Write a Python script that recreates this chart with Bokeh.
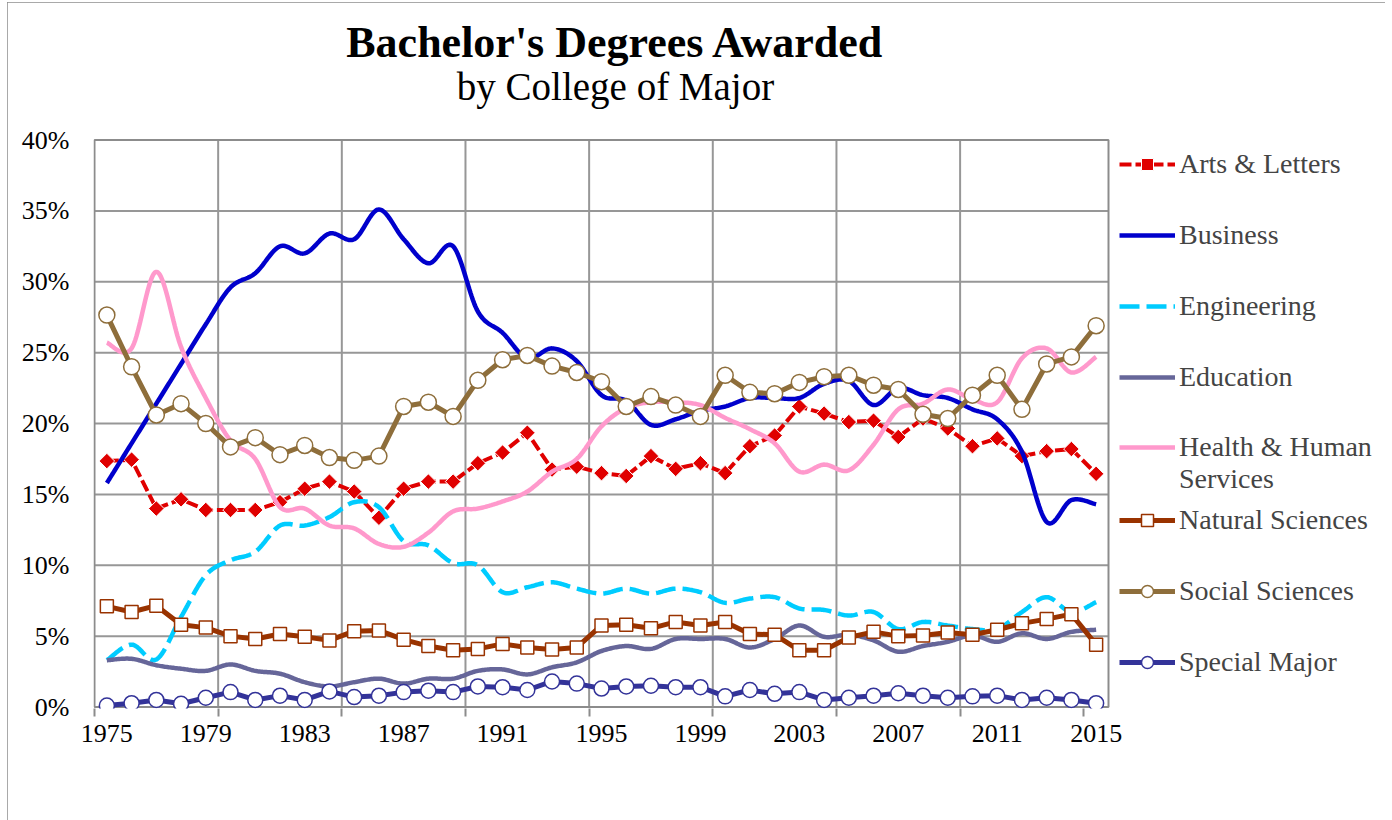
import numpy as np
from bokeh.plotting import figure
from bokeh.models import Legend, LegendItem, FixedTicker, PrintfTickFormatter, Label
from bokeh.embed import file_html
from bokeh.resources import INLINE

years = list(range(1975, 2016))

arts = [17.35, 17.45, 14.0, 14.65, 13.9, 13.9, 13.9, 14.45, 15.4, 15.9,
        15.2, 13.35, 15.4, 15.9, 15.9, 17.2, 17.95, 19.35, 16.75, 16.95,
        16.5, 16.3, 17.7, 16.8, 17.2, 16.5, 18.4, 19.15, 21.2, 20.7,
        20.1, 20.2, 19.05, 20.35, 19.65, 18.4, 18.95, 17.7, 18.05, 18.2, 16.45]
business = [15.8, 18.6, 21.4, 24.2, 27.0, 29.6, 30.6, 32.5, 32.0, 33.4,
            33.0, 35.1, 33.0, 31.3, 32.5, 27.9, 26.4, 24.6, 25.3, 24.4,
            22.0, 21.6, 19.9, 20.3, 20.9, 21.2, 21.8, 21.8, 21.8, 22.8,
            23.0, 21.3, 22.5, 22.0, 21.8, 21.0, 20.3, 18.0, 13.05, 14.6, 14.3]
engineering = [3.3, 4.4, 3.35, 6.35, 9.3, 10.35, 10.95, 12.8, 12.8, 13.4,
               14.45, 14.1, 11.7, 11.4, 10.15, 10.0, 8.1, 8.45, 8.8, 8.35,
               8.0, 8.35, 8.0, 8.35, 8.1, 7.35, 7.65, 7.75, 6.95, 6.85,
               6.45, 6.7, 5.5, 6.0, 5.75, 5.5, 5.5, 6.7, 7.75, 6.7, 7.4]
education = [3.3, 3.4, 2.95, 2.7, 2.55, 3.0, 2.55, 2.35, 1.75, 1.45,
             1.75, 2.0, 1.65, 2.0, 2.0, 2.55, 2.65, 2.3, 2.8, 3.15,
             3.95, 4.3, 4.1, 4.8, 4.8, 4.8, 4.2, 4.8, 5.75, 4.95,
             5.1, 4.7, 3.9, 4.3, 4.6, 5.05, 4.6, 5.2, 4.8, 5.3, 5.45]
health = [25.7, 25.3, 30.7, 25.4, 21.8, 18.8, 17.5, 14.1, 14.0, 12.8,
          12.6, 11.5, 11.3, 12.3, 13.8, 14.0, 14.5, 15.2, 16.6, 17.5,
          19.8, 21.1, 21.5, 21.5, 21.3, 20.4, 19.6, 18.6, 16.6, 17.1,
          16.7, 18.5, 21.0, 21.4, 22.4, 21.7, 21.5, 24.6, 25.3, 23.6, 24.7]
natural = [7.1, 6.7, 7.15, 5.8, 5.6, 5.0, 4.8, 5.15, 4.95, 4.7,
           5.35, 5.4, 4.75, 4.3, 4.0, 4.1, 4.45, 4.2, 4.05, 4.2,
           5.75, 5.8, 5.55, 6.0, 5.75, 6.0, 5.15, 5.1, 4.0, 4.0,
           4.9, 5.3, 5.0, 5.05, 5.25, 5.1, 5.45, 5.9, 6.2, 6.55, 4.4]
social = [27.65, 24.0, 20.6, 21.4, 20.0, 18.35, 19.0, 17.8, 18.45, 17.6,
          17.4, 17.7, 21.2, 21.5, 20.5, 23.05, 24.5, 24.8, 24.05, 23.6,
          22.95, 21.2, 21.9, 21.3, 20.5, 23.4, 22.2, 22.1, 22.9, 23.3,
          23.4, 22.7, 22.4, 20.65, 20.35, 22.0, 23.4, 21.0, 24.2, 24.7, 26.9]
special = [0.1, 0.27, 0.5, 0.23, 0.65, 1.05, 0.5, 0.8, 0.5, 1.1,
           0.7, 0.8, 1.05, 1.15, 1.05, 1.45, 1.4, 1.2, 1.8, 1.65,
           1.3, 1.45, 1.5, 1.4, 1.4, 0.75, 1.2, 0.93, 1.05, 0.5,
           0.65, 0.8, 0.97, 0.8, 0.65, 0.75, 0.8, 0.5, 0.65, 0.5, 0.27]

x_labels = list(range(1975, 2016, 4))
y_ticks = list(range(0, 41, 5))
title_text = "Bachelor's Degrees Awarded"
subtitle_text = "by College of Major"

FONT = "Liberation Serif"
GRID = "#979797"


def smooth(xs, ys, n=20):
    """Catmull-Rom curve through the data points (like Excel's smoothed line)."""
    xs = np.asarray(xs, float)
    ys = np.asarray(ys, float)
    m = len(xs)
    ox, oy = [], []
    for i in range(m - 1):
        i0 = max(i - 1, 0)
        i3 = min(i + 2, m - 1)
        p0 = np.array([xs[i0], ys[i0]])
        p1 = np.array([xs[i], ys[i]])
        p2 = np.array([xs[i + 1], ys[i + 1]])
        p3 = np.array([xs[i3], ys[i3]])
        for t in np.linspace(0, 1, n, endpoint=False):
            t2, t3 = t * t, t * t * t
            pt = 0.5 * ((2 * p1) + (-p0 + p2) * t + (2 * p0 - 5 * p1 + 4 * p2 - p3) * t2
                        + (-p0 + 3 * p1 - 3 * p2 + p3) * t3)
            ox.append(pt[0])
            oy.append(pt[1])
    ox.append(xs[-1])
    oy.append(ys[-1])
    return ox, oy


# ---- layout geometry (page pixels; canvas starts at page (7, 2)) ----
OX, OY = 7, 2
W, H = 1378, 818
PX_YEAR = 1014 / len(years)          # width of one category
PX_PCT = 567 / 40                     # height of 1 %
AREA_LEFT, AREA_ZERO = 94, 706.5      # page x of left plot-area edge, page y of 0 %
FRAME_LEFT, FRAME_TOP, FRAME_BOTTOM, FRAME_RIGHT = 93, 6, 708, 1381

BL = FRAME_LEFT - OX
BT = FRAME_TOP - OY
BR = OX + W - FRAME_RIGHT
BB = OY + H - FRAME_BOTTOM

x_lo = years[0] - 0.5                  # plot-area edges (category boundaries)
x_hi = years[-1] + 0.5


def px_to_x(px):
    return x_lo + (px - AREA_LEFT) / PX_YEAR


def py_to_y(py):
    return (AREA_ZERO - py) / PX_PCT


p = figure(width=W, height=H,
           x_range=(px_to_x(FRAME_LEFT), px_to_x(FRAME_RIGHT)),
           y_range=(py_to_y(FRAME_BOTTOM), py_to_y(FRAME_TOP)),
           output_backend="svg", toolbar_location=None, title=None,
           min_border_left=BL, min_border_right=BR, min_border_top=BT,
           min_border_bottom=BB)
p.styles = {"outline": "2px solid #8C8C8C", "outline-offset": "-2px",
            "margin-left": f"{OX}px", "margin-top": f"{OY}px"}
p.outline_line_color = None
p.xgrid.visible = False
p.ygrid.visible = False

# axes
bounds = [x_lo + 5 * k for k in range(9)]
p.xaxis.ticker = FixedTicker(ticks=x_labels, minor_ticks=bounds)
p.xaxis.major_tick_line_color = None
p.xaxis.minor_tick_line_color = "#8C8C8C"
p.xaxis.minor_tick_line_width = 2
p.xaxis.minor_tick_out = 8
p.xaxis.minor_tick_in = 0
p.xaxis.axis_line_color = None
p.xaxis.major_label_text_font = FONT
p.xaxis.major_label_text_font_size = "26px"
p.xaxis.major_label_text_color = "black"
p.xaxis.major_label_standoff = 8

p.yaxis.ticker = FixedTicker(ticks=y_ticks)
p.yaxis.formatter = PrintfTickFormatter(format="%d%%")
p.yaxis.major_tick_line_color = None
p.yaxis.minor_tick_line_color = None
p.yaxis.axis_line_color = None
p.yaxis.major_label_text_font = FONT
p.yaxis.major_label_text_font_size = "26px"
p.yaxis.major_label_text_color = "black"
p.yaxis.major_label_standoff = 18

# plot-area grid and border
vg = bounds[1:-1]
p.segment(x0=vg, x1=vg, y0=[y_ticks[0]] * len(vg), y1=[y_ticks[-1]] * len(vg),
          line_color=GRID, line_width=2)
hg = y_ticks[1:-1]
p.segment(x0=[x_lo] * len(hg), x1=[x_hi] * len(hg), y0=hg, y1=hg,
          line_color=GRID, line_width=2)
p.quad(left=[x_lo], right=[x_hi], bottom=[y_ticks[0]], top=[y_ticks[-1]], fill_alpha=0,
       line_color="#8C8C8C", line_width=2)

# titles
p.add_layout(Label(x=px_to_x(615), y=py_to_y(42), text=title_text, text_font=FONT,
                   text_font_size="44px", text_font_style="bold", text_color="black",
                   text_align="center", text_baseline="alphabetic"))
p.add_layout(Label(x=px_to_x(615), y=py_to_y(86), text=subtitle_text, text_font=FONT,
                   text_font_size="39px", text_font_style="normal", text_color="black",
                   text_align="center", text_baseline="alphabetic"))

# series
c_arts, c_bus, c_eng, c_edu = "#E00000", "#0000CC", "#00CCFF", "#666699"
c_hea, c_nat, c_soc, c_spe = "#FF99CC", "#993300", "#8E6E3B", "#333399"

r_arts_l = p.line(years, arts, line_color=c_arts, line_width=4, line_dash="12 4")
r_arts_m = p.scatter(years, arts, marker="square", angle=np.pi / 4, size=11,
                     fill_color=c_arts, line_color="white", line_width=1)

bx, by = smooth(years, business)
r_bus = p.line(bx, by, line_color=c_bus, line_width=4.5)

ex, ey = smooth(years, engineering)
r_eng = p.line(ex, ey, line_color=c_eng, line_width=4.5, line_dash="20 7")

dx, dy = smooth(years, education)
r_edu = p.line(dx, dy, line_color=c_edu, line_width=4.5)

hx, hy = smooth(years, health)
r_hea = p.line(hx, hy, line_color=c_hea, line_width=4.5)
# second legend line of the Health label has no swatch of its own
r_hea_blank = p.line(hx, hy, line_alpha=0)

r_nat_l = p.line(years, natural, line_color=c_nat, line_width=5)
r_nat_m = p.scatter(years, natural, marker="square", size=13, fill_color="white",
                    line_color=c_nat, line_width=1.5)

r_soc_l = p.line(years, social, line_color=c_soc, line_width=5)
r_soc_m = p.scatter(years, social, marker="circle", size=16, fill_color="white",
                    line_color=c_soc, line_width=1.5)

r_spe_l = p.line(years, special, line_color=c_spe, line_width=5)
r_spe_m = p.scatter(years, special, marker="circle", size=15, fill_color="white",
                    line_color=c_spe, line_width=1.5)

ITEM_H = 32
common = dict(orientation="vertical", glyph_width=56, glyph_height=30, label_height=30,
              label_standoff=4, padding=0, margin=0,
              border_line_color=None, background_fill_alpha=0,
              label_text_font=FONT, label_text_font_size="28px")

LX = 1119 - FRAME_LEFT


def leg_y(last_center):
    # legend location is its bottom-left corner, measured up from the frame bottom
    return FRAME_BOTTOM - (last_center + ITEM_H / 2)


leg1 = Legend(items=[
    LegendItem(label="Arts & Letters", renderers=[r_arts_l, r_arts_m]),
    LegendItem(label="Business", renderers=[r_bus]),
    LegendItem(label="Engineering", renderers=[r_eng]),
    LegendItem(label="Education", renderers=[r_edu]),
], location=(LX, leg_y(377)), spacing=39, **common)
legh = Legend(items=[
    LegendItem(label="Health & Human", renderers=[r_hea]),
    LegendItem(label="Services", renderers=[r_hea_blank]),
], location=(LX, leg_y(479)), spacing=-2, **common)
leg2 = Legend(items=[
    LegendItem(label="Natural Sciences", renderers=[r_nat_l, r_nat_m]),
    LegendItem(label="Social Sciences", renderers=[r_soc_l, r_soc_m]),
    LegendItem(label="Special Major", renderers=[r_spe_l, r_spe_m]),
], location=(LX, leg_y(662)), spacing=39, **common)
p.add_layout(leg1)
p.add_layout(legh)
p.add_layout(leg2)

open("out.html", "w").write(file_html(p, INLINE))
